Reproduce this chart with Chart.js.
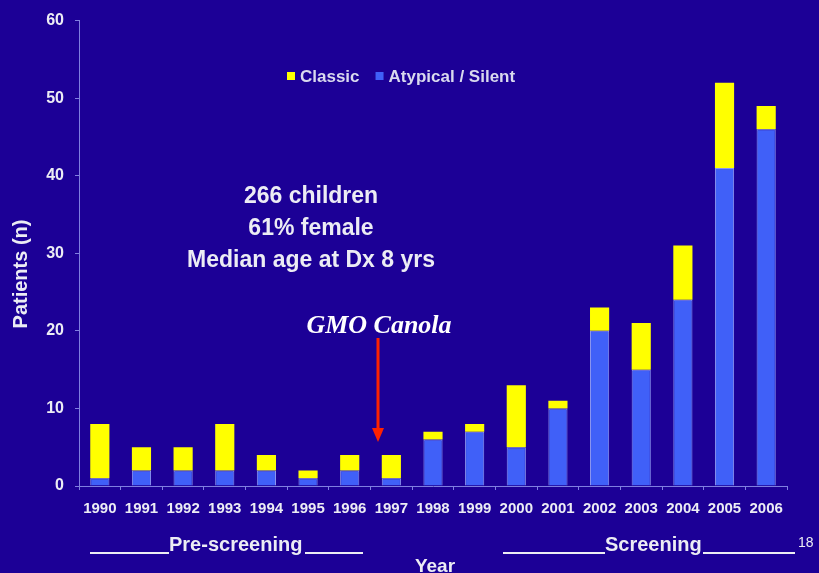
<!DOCTYPE html>
<html>
<head>
<meta charset="utf-8">
<script src="https://cdn.jsdelivr.net/npm/chart.js@4.4.0/dist/chart.umd.min.js"></script>
<style>
  html, body { margin: 0; padding: 0; background: #1c0096; overflow: hidden; }
  canvas { display: block; }
</style>
</head>
<body>
<canvas id="chart" width="819" height="573"></canvas>
<script>
// Data
const years = ['1990', '1991', '1992', '1993', '1994', '1995', '1996', '1997', '1998',
               '1999', '2000', '2001', '2002', '2003', '2004', '2005', '2006'];
const atypical = [1, 2, 2, 2, 2, 1, 2, 1, 6, 7, 5, 10, 20, 15, 24, 41, 46];
const classic  = [7, 3, 3, 6, 2, 1, 2, 3, 1, 1, 8, 1, 3, 6, 7, 11, 3];
const yTicks = [0, 10, 20, 30, 40, 50, 60];

const bg = '#1c0096';
const textCol = '#ececf4';
const axisCol = '#7f7fe0';

// Background, legend and slide annotations
const slideDecor = {
    id: 'slideDecor',
    beforeDraw(chart) {
        const ctx = chart.ctx;
        ctx.save();
        ctx.fillStyle = bg;
        ctx.fillRect(0, 0, chart.width, chart.height);
        ctx.restore();
    },
    afterDraw(chart) {
        const ctx = chart.ctx;
        ctx.save();

        // legend (Classic first, then Atypical)
        ctx.font = 'bold 17px "Liberation Sans", Arial, sans-serif';
        ctx.textBaseline = 'middle';
        ctx.textAlign = 'left';
        const items = [chart.data.datasets[1], chart.data.datasets[0]];
        let lx = 287;
        items.forEach(function(ds) {
            ctx.fillStyle = ds.backgroundColor;
            ctx.fillRect(lx, 72, 8, 8);
            ctx.fillStyle = '#d9d9ee';
            ctx.fillText(ds.label, lx + 13, 77);
            lx += 13 + ctx.measureText(ds.label).width + 16;
        });

        // y title
        ctx.save();
        ctx.translate(21, 274);
        ctx.rotate(-Math.PI / 2);
        ctx.textAlign = 'center';
        ctx.fillStyle = textCol;
        ctx.font = 'bold 20px "Liberation Sans", Arial, sans-serif';
        ctx.fillText('Patients (n)', 0, 0);
        ctx.restore();

        // summary text
        ctx.textAlign = 'center';
        ctx.fillStyle = textCol;
        ctx.font = 'bold 23px "Liberation Sans", Arial, sans-serif';
        ctx.fillText('266 children', 311, 197);
        ctx.fillText('61% female', 311, 229);
        ctx.fillText('Median age at Dx 8 yrs', 311, 261);

        // GMO Canola + arrow
        ctx.font = 'italic bold 26px "Liberation Serif", "Times New Roman", serif';
        ctx.fillStyle = '#ffffff';
        ctx.fillText('GMO Canola', 379, 326);
        ctx.strokeStyle = '#ff2200';
        ctx.fillStyle = '#ff2200';
        ctx.lineWidth = 3;
        ctx.beginPath();
        ctx.moveTo(378, 338);
        ctx.lineTo(378, 430);
        ctx.stroke();
        ctx.beginPath();
        ctx.moveTo(372, 428);
        ctx.lineTo(384, 428);
        ctx.lineTo(378, 442);
        ctx.closePath();
        ctx.fill();

        // bottom period labels
        ctx.fillStyle = textCol;
        ctx.strokeStyle = textCol;
        ctx.lineWidth = 2;
        ctx.font = 'bold 20px "Liberation Sans", Arial, sans-serif';
        ctx.textAlign = 'left';
        ctx.textBaseline = 'alphabetic';
        ctx.fillText('Pre-screening', 169, 551);
        ctx.fillText('Screening', 605, 551);
        ctx.beginPath();
        ctx.moveTo(90, 553); ctx.lineTo(169, 553);
        ctx.moveTo(305, 553); ctx.lineTo(363, 553);
        ctx.moveTo(503, 553); ctx.lineTo(605, 553);
        ctx.moveTo(703, 553); ctx.lineTo(795, 553);
        ctx.stroke();

        ctx.font = '14px "Liberation Sans", Arial, sans-serif';
        ctx.fillText('18', 798, 547);

        ctx.font = 'bold 19px "Liberation Sans", Arial, sans-serif';
        ctx.textAlign = 'center';
        ctx.fillText('Year', 435, 572);

        ctx.restore();
    }
};

new Chart(document.getElementById('chart'), {
    type: 'bar',
    data: {
        labels: years,
        datasets: [{
            label: 'Atypical / Silent',
            data: atypical,
            backgroundColor: '#4060f8',
            borderColor: '#8c96f0',
            borderWidth: 1,
            borderSkipped: 'bottom'
        }, {
            label: 'Classic',
            data: classic,
            backgroundColor: '#ffff00',
            borderWidth: 0
        }]
    },
    options: {
        responsive: false,
        animation: false,
        devicePixelRatio: 1,
        layout: {
            padding: { top: 19, right: 32, left: 0, bottom: 0 }
        },
        datasets: {
            bar: { barPercentage: 0.46, categoryPercentage: 1 }
        },
        plugins: {
            legend: { display: false },
            tooltip: { enabled: false }
        },
        scales: {
            x: {
                stacked: true,
                afterFit(scale) { scale.height = 87; },
                border: { display: true, color: axisCol, width: 1 },
                grid: { drawOnChartArea: false, drawTicks: true, tickLength: 4, color: axisCol },
                ticks: {
                    color: textCol,
                    font: { family: '"Liberation Sans", Arial, sans-serif', size: 15, weight: 'bold' },
                    padding: 10,
                    maxRotation: 0,
                    autoSkip: false
                }
            },
            y: {
                stacked: true,
                min: 0,
                max: 60,
                afterFit(scale) { scale.width = 79; },
                afterBuildTicks(scale) {
                    scale.ticks = yTicks.map(function(v) { return { value: v }; });
                },
                border: { display: true, color: axisCol, width: 1 },
                grid: { drawOnChartArea: false, drawTicks: true, tickLength: 4, color: axisCol },
                ticks: {
                    color: textCol,
                    font: { family: '"Liberation Sans", Arial, sans-serif', size: 16, weight: 'bold' },
                    padding: 11
                }
            }
        }
    },
    plugins: [slideDecor]
});
</script>
</body>
</html>
